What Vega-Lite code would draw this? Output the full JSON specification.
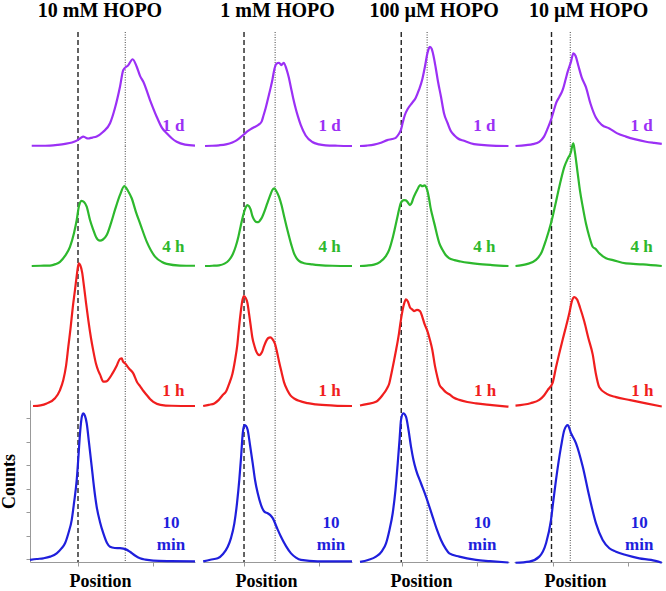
{
"$schema": "https://vega.github.io/schema/vega-lite/v6.json",
"padding": {"left": 0, "top": 1, "right": 0, "bottom": 0},
"background": "white",
"datasets": {
"A1": [{"x":0.383,"y":0.01},{"x":0.5,"y":0.01},{"x":0.627,"y":0.02},{"x":0.73,"y":0.05},{"x":0.827,"y":0.09},{"x":0.92,"y":0.15},{"x":0.983,"y":0.23},{"x":1.03,"y":0.33},{"x":1.071,"y":0.40},{"x":1.1,"y":0.36},{"x":1.133,"y":0.32},{"x":1.19,"y":0.36},{"x":1.249,"y":0.41},{"x":1.333,"y":0.60},{"x":1.427,"y":0.97},{"x":1.493,"y":1.62},{"x":1.56,"y":2.53},{"x":1.604,"y":3.24},{"x":1.671,"y":3.45},{"x":1.729,"y":3.70},{"x":1.783,"y":3.38},{"x":1.827,"y":2.99},{"x":1.871,"y":2.74},{"x":1.96,"y":1.96},{"x":2.049,"y":1.25},{"x":2.12,"y":0.77},{"x":2.183,"y":0.54},{"x":2.25,"y":0.33},{"x":2.316,"y":0.18},{"x":2.427,"y":0.06},{"x":2.56,"y":0.02}],
"A2": [{"x":0.383,"y":0},{"x":0.5,"y":0.01},{"x":0.627,"y":0.02},{"x":0.7,"y":0.08},{"x":0.76,"y":0.18},{"x":0.827,"y":0.43},{"x":0.893,"y":0.82},{"x":0.947,"y":1.41},{"x":0.983,"y":1.96},{"x":1.013,"y":2.56},{"x":1.049,"y":2.78},{"x":1.08,"y":2.73},{"x":1.116,"y":2.53},{"x":1.16,"y":1.96},{"x":1.204,"y":1.54},{"x":1.24,"y":1.24},{"x":1.293,"y":1.08},{"x":1.333,"y":1.13},{"x":1.383,"y":1.32},{"x":1.44,"y":1.83},{"x":1.493,"y":2.39},{"x":1.56,"y":3.03},{"x":1.617,"y":3.41},{"x":1.667,"y":3.20},{"x":1.716,"y":2.89},{"x":1.773,"y":2.30},{"x":1.827,"y":1.82},{"x":1.916,"y":1.04},{"x":2.027,"y":0.40},{"x":2.12,"y":0.17},{"x":2.183,"y":0.09},{"x":2.36,"y":0.02},{"x":2.56,"y":0.01}],
"A3": [{"x":0.40,"y":0},{"x":0.5,"y":0.03},{"x":0.583,"y":0.11},{"x":0.693,"y":0.33},{"x":0.76,"y":0.68},{"x":0.804,"y":1.11},{"x":0.84,"y":1.7},{"x":0.871,"y":2.53},{"x":0.9,"y":3.3},{"x":0.93,"y":4.2},{"x":0.96,"y":4.95},{"x":0.985,"y":5.6},{"x":1.0,"y":5.95},{"x":1.013,"y":6.08},{"x":1.03,"y":6.0},{"x":1.055,"y":5.7},{"x":1.08,"y":5.1},{"x":1.107,"y":4.4},{"x":1.137,"y":3.67},{"x":1.173,"y":2.9},{"x":1.204,"y":2.35},{"x":1.24,"y":1.8},{"x":1.271,"y":1.5},{"x":1.293,"y":1.35},{"x":1.337,"y":1.04},{"x":1.38,"y":1.05},{"x":1.404,"y":1.12},{"x":1.458,"y":1.38},{"x":1.516,"y":1.72},{"x":1.56,"y":2.01},{"x":1.583,"y":2.03},{"x":1.6,"y":1.9},{"x":1.627,"y":1.82},{"x":1.68,"y":1.6},{"x":1.737,"y":1.39},{"x":1.79,"y":1.0},{"x":1.827,"y":0.85},{"x":1.87,"y":0.65},{"x":1.916,"y":0.47},{"x":1.96,"y":0.3},{"x":2.004,"y":0.18},{"x":2.1,"y":0.05},{"x":2.249,"y":0.01},{"x":2.56,"y":0}],
"A4": [{"x":0.36,"y":-0.04},{"x":0.45,"y":0.0},{"x":0.537,"y":0.03},{"x":0.63,"y":0.1},{"x":0.716,"y":0.24},{"x":0.78,"y":0.45},{"x":0.827,"y":0.67},{"x":0.873,"y":1.11},{"x":0.916,"y":1.66},{"x":0.947,"y":2.39},{"x":0.983,"y":3.37},{"x":1.007,"y":4.43},{"x":1.027,"y":5.36},{"x":1.053,"y":6.10},{"x":1.071,"y":6.21},{"x":1.093,"y":6.10},{"x":1.116,"y":5.79},{"x":1.147,"y":4.95},{"x":1.183,"y":3.94},{"x":1.213,"y":3.07},{"x":1.249,"y":2.23},{"x":1.293,"y":1.58},{"x":1.337,"y":1.10},{"x":1.387,"y":0.68},{"x":1.427,"y":0.52},{"x":1.49,"y":0.47},{"x":1.56,"y":0.46},{"x":1.64,"y":0.41},{"x":1.693,"y":0.31},{"x":1.76,"y":0.15},{"x":1.827,"y":0.03},{"x":1.9,"y":-0.03},{"x":2.004,"y":-0.07},{"x":2.227,"y":-0.09},{"x":2.56,"y":-0.1}],
"B1": [{"x":0.48,"y":0.0},{"x":0.57,"y":0.01},{"x":0.667,"y":0.03},{"x":0.76,"y":0.07},{"x":0.844,"y":0.15},{"x":0.9,"y":0.24},{"x":0.956,"y":0.38},{"x":1.0,"y":0.5},{"x":1.044,"y":0.62},{"x":1.09,"y":0.72},{"x":1.133,"y":0.80},{"x":1.2,"y":0.92},{"x":1.236,"y":1.05},{"x":1.26,"y":1.3},{"x":1.289,"y":1.62},{"x":1.322,"y":2.05},{"x":1.356,"y":2.5},{"x":1.38,"y":2.85},{"x":1.40,"y":3.2},{"x":1.431,"y":3.5},{"x":1.467,"y":3.55},{"x":1.498,"y":3.45},{"x":1.529,"y":3.55},{"x":1.564,"y":3.3},{"x":1.595,"y":2.95},{"x":1.622,"y":2.55},{"x":1.655,"y":2.05},{"x":1.689,"y":1.6},{"x":1.72,"y":1.25},{"x":1.756,"y":0.9},{"x":1.822,"y":0.45},{"x":1.911,"y":0.17},{"x":2.0,"y":0.07},{"x":2.089,"y":0.03},{"x":2.25,"y":0.01},{"x":2.44,"y":0.0}],
"B2": [{"x":0.48,"y":0},{"x":0.58,"y":0.01},{"x":0.667,"y":0.03},{"x":0.74,"y":0.1},{"x":0.8,"y":0.25},{"x":0.85,"y":0.5},{"x":0.889,"y":0.83},{"x":0.925,"y":1.25},{"x":0.956,"y":1.71},{"x":0.98,"y":2.05},{"x":1.0,"y":2.29},{"x":1.02,"y":2.48},{"x":1.044,"y":2.6},{"x":1.066,"y":2.55},{"x":1.089,"y":2.4},{"x":1.11,"y":2.15},{"x":1.133,"y":1.98},{"x":1.16,"y":1.88},{"x":1.191,"y":1.87},{"x":1.215,"y":1.95},{"x":1.244,"y":2.1},{"x":1.275,"y":2.35},{"x":1.311,"y":2.68},{"x":1.345,"y":2.98},{"x":1.378,"y":3.24},{"x":1.404,"y":3.31},{"x":1.43,"y":3.2},{"x":1.467,"y":2.95},{"x":1.5,"y":2.6},{"x":1.533,"y":2.14},{"x":1.567,"y":1.68},{"x":1.6,"y":1.27},{"x":1.633,"y":0.88},{"x":1.667,"y":0.54},{"x":1.7,"y":0.34},{"x":1.733,"y":0.22},{"x":1.8,"y":0.12},{"x":1.911,"y":0.07},{"x":2.0,"y":0.04},{"x":2.178,"y":0.01},{"x":2.44,"y":0}],
"B3": [{"x":0.455,"y":0},{"x":0.53,"y":0.05},{"x":0.604,"y":0.11},{"x":0.66,"y":0.25},{"x":0.716,"y":0.47},{"x":0.76,"y":0.62},{"x":0.804,"y":0.97},{"x":0.844,"y":1.35},{"x":0.88,"y":1.95},{"x":0.911,"y":2.62},{"x":0.935,"y":3.4},{"x":0.956,"y":4.0},{"x":0.975,"y":4.45},{"x":0.996,"y":4.69},{"x":1.02,"y":4.62},{"x":1.045,"y":4.4},{"x":1.067,"y":3.94},{"x":1.09,"y":3.4},{"x":1.111,"y":2.92},{"x":1.14,"y":2.55},{"x":1.164,"y":2.32},{"x":1.204,"y":2.17},{"x":1.24,"y":2.3},{"x":1.267,"y":2.55},{"x":1.3,"y":2.8},{"x":1.324,"y":2.9},{"x":1.351,"y":2.93},{"x":1.38,"y":2.85},{"x":1.413,"y":2.65},{"x":1.44,"y":2.3},{"x":1.467,"y":1.90},{"x":1.5,"y":1.45},{"x":1.533,"y":1.02},{"x":1.58,"y":0.66},{"x":1.622,"y":0.44},{"x":1.68,"y":0.3},{"x":1.733,"y":0.22},{"x":1.85,"y":0.12},{"x":1.956,"y":0.07},{"x":2.2,"y":0.02},{"x":2.44,"y":0}],
"B4": [{"x":0.455,"y":-0.1},{"x":0.55,"y":-0.03},{"x":0.649,"y":0.03},{"x":0.72,"y":0.21},{"x":0.783,"y":0.52},{"x":0.827,"y":0.90},{"x":0.871,"y":1.52},{"x":0.907,"y":2.39},{"x":0.937,"y":3.37},{"x":0.96,"y":4.31},{"x":0.983,"y":5.36},{"x":1.004,"y":5.71},{"x":1.027,"y":5.67},{"x":1.049,"y":5.50},{"x":1.08,"y":4.86},{"x":1.116,"y":4.08},{"x":1.147,"y":3.37},{"x":1.183,"y":2.80},{"x":1.227,"y":2.30},{"x":1.271,"y":2.02},{"x":1.316,"y":1.95},{"x":1.347,"y":1.88},{"x":1.383,"y":1.74},{"x":1.44,"y":1.32},{"x":1.493,"y":0.95},{"x":1.56,"y":0.55},{"x":1.627,"y":0.24},{"x":1.693,"y":0.06},{"x":1.76,"y":-0.04},{"x":1.983,"y":-0.1},{"x":2.44,"y":-0.1}],
"C1": [{"x":0.44,"y":0},{"x":0.53,"y":0.02},{"x":0.627,"y":0.06},{"x":0.72,"y":0.14},{"x":0.804,"y":0.25},{"x":0.87,"y":0.3},{"x":0.916,"y":0.35},{"x":0.955,"y":0.5},{"x":0.987,"y":0.70},{"x":1.01,"y":1.0},{"x":1.036,"y":1.3},{"x":1.08,"y":1.60},{"x":1.138,"y":1.85},{"x":1.182,"y":2.05},{"x":1.227,"y":2.4},{"x":1.271,"y":2.85},{"x":1.307,"y":3.4},{"x":1.338,"y":3.94},{"x":1.36,"y":4.18},{"x":1.373,"y":4.23},{"x":1.395,"y":4.15},{"x":1.42,"y":3.85},{"x":1.449,"y":3.35},{"x":1.48,"y":2.75},{"x":1.52,"y":2.1},{"x":1.56,"y":1.4},{"x":1.609,"y":0.97},{"x":1.649,"y":0.65},{"x":1.7,"y":0.45},{"x":1.742,"y":0.33},{"x":1.827,"y":0.22},{"x":1.96,"y":0.08},{"x":2.138,"y":0.03},{"x":2.42,"y":0}],
"C2": [{"x":0.44,"y":0},{"x":0.53,"y":0.02},{"x":0.627,"y":0.06},{"x":0.71,"y":0.18},{"x":0.782,"y":0.41},{"x":0.83,"y":0.7},{"x":0.871,"y":1.14},{"x":0.905,"y":1.6},{"x":0.938,"y":2.08},{"x":0.96,"y":2.4},{"x":0.982,"y":2.67},{"x":1.005,"y":2.78},{"x":1.027,"y":2.81},{"x":1.053,"y":2.80},{"x":1.071,"y":2.74},{"x":1.107,"y":2.6},{"x":1.13,"y":2.7},{"x":1.151,"y":2.89},{"x":1.18,"y":3.1},{"x":1.204,"y":3.25},{"x":1.244,"y":3.45},{"x":1.271,"y":3.40},{"x":1.302,"y":3.44},{"x":1.32,"y":3.38},{"x":1.34,"y":3.2},{"x":1.36,"y":2.89},{"x":1.38,"y":2.5},{"x":1.404,"y":2.16},{"x":1.44,"y":1.7},{"x":1.471,"y":1.28},{"x":1.5,"y":0.95},{"x":1.538,"y":0.70},{"x":1.58,"y":0.48},{"x":1.627,"y":0.34},{"x":1.7,"y":0.25},{"x":1.782,"y":0.19},{"x":1.9,"y":0.13},{"x":2.004,"y":0.09},{"x":2.2,"y":0.04},{"x":2.42,"y":0}],
"C3": [{"x":0.44,"y":0.02},{"x":0.53,"y":0.08},{"x":0.653,"y":0.18},{"x":0.742,"y":0.47},{"x":0.8,"y":0.75},{"x":0.831,"y":0.97},{"x":0.86,"y":1.4},{"x":0.916,"y":2.3},{"x":0.96,"y":3.1},{"x":0.982,"y":3.6},{"x":1.027,"y":4.35},{"x":1.053,"y":4.55},{"x":1.08,"y":4.45},{"x":1.107,"y":4.2},{"x":1.135,"y":4.12},{"x":1.16,"y":4.05},{"x":1.2,"y":4.1},{"x":1.24,"y":4.05},{"x":1.271,"y":3.8},{"x":1.3,"y":3.5},{"x":1.338,"y":3.2},{"x":1.37,"y":2.85},{"x":1.404,"y":2.4},{"x":1.44,"y":1.7},{"x":1.471,"y":1.25},{"x":1.5,"y":0.9},{"x":1.538,"y":0.75},{"x":1.58,"y":0.6},{"x":1.631,"y":0.5},{"x":1.693,"y":0.35},{"x":1.764,"y":0.26},{"x":1.871,"y":0.17},{"x":1.987,"y":0.11},{"x":2.2,"y":0.04},{"x":2.42,"y":-0.03}],
"C4": [{"x":0.44,"y":-0.12},{"x":0.547,"y":-0.04},{"x":0.653,"y":0.10},{"x":0.733,"y":0.34},{"x":0.787,"y":0.67},{"x":0.833,"y":1.24},{"x":0.876,"y":1.95},{"x":0.913,"y":2.94},{"x":0.943,"y":4.08},{"x":0.967,"y":5.07},{"x":0.987,"y":5.93},{"x":1.017,"y":6.21},{"x":1.053,"y":6.07},{"x":1.087,"y":5.50},{"x":1.12,"y":4.79},{"x":1.153,"y":4.22},{"x":1.187,"y":3.80},{"x":1.253,"y":3.23},{"x":1.32,"y":2.66},{"x":1.409,"y":1.80},{"x":1.467,"y":1.24},{"x":1.52,"y":0.81},{"x":1.58,"y":0.45},{"x":1.631,"y":0.24},{"x":1.764,"y":0.10},{"x":1.987,"y":-0.04},{"x":2.173,"y":-0.09},{"x":2.42,"y":-0.15}],
"D1": [{"x":0.5,"y":0.0},{"x":0.64,"y":0.04},{"x":0.73,"y":0.08},{"x":0.817,"y":0.18},{"x":0.88,"y":0.4},{"x":0.929,"y":0.75},{"x":0.973,"y":1.11},{"x":1.005,"y":1.45},{"x":1.04,"y":1.82},{"x":1.085,"y":2.1},{"x":1.129,"y":2.39},{"x":1.165,"y":2.8},{"x":1.196,"y":3.17},{"x":1.24,"y":3.6},{"x":1.271,"y":3.95},{"x":1.3,"y":3.85},{"x":1.34,"y":3.4},{"x":1.38,"y":2.95},{"x":1.44,"y":2.5},{"x":1.5,"y":1.8},{"x":1.573,"y":1.2},{"x":1.65,"y":0.9},{"x":1.751,"y":0.75},{"x":1.85,"y":0.55},{"x":1.973,"y":0.40},{"x":2.1,"y":0.28},{"x":2.24,"y":0.18},{"x":2.35,"y":0.13},{"x":2.45,"y":0.09}],
"D2": [{"x":0.5,"y":0},{"x":0.65,"y":0.08},{"x":0.773,"y":0.26},{"x":0.85,"y":0.6},{"x":0.907,"y":1.11},{"x":0.973,"y":1.82},{"x":1.03,"y":2.6},{"x":1.084,"y":3.38},{"x":1.151,"y":4.23},{"x":1.2,"y":4.6},{"x":1.24,"y":4.87},{"x":1.255,"y":5.1},{"x":1.271,"y":5.23},{"x":1.29,"y":4.9},{"x":1.329,"y":3.95},{"x":1.36,"y":3.2},{"x":1.396,"y":2.53},{"x":1.44,"y":1.8},{"x":1.484,"y":1.25},{"x":1.529,"y":0.82},{"x":1.57,"y":0.72},{"x":1.617,"y":0.54},{"x":1.707,"y":0.33},{"x":1.8,"y":0.25},{"x":1.973,"y":0.11},{"x":2.2,"y":0.07},{"x":2.45,"y":0.0}],
"D3": [{"x":0.5,"y":0.02},{"x":0.7,"y":0.12},{"x":0.817,"y":0.26},{"x":0.88,"y":0.45},{"x":0.929,"y":0.68},{"x":0.996,"y":1.0},{"x":1.04,"y":1.65},{"x":1.084,"y":2.25},{"x":1.13,"y":2.85},{"x":1.173,"y":3.38},{"x":1.22,"y":4.0},{"x":1.25,"y":4.45},{"x":1.284,"y":4.64},{"x":1.32,"y":4.55},{"x":1.36,"y":4.2},{"x":1.417,"y":3.6},{"x":1.471,"y":2.9},{"x":1.529,"y":2.2},{"x":1.57,"y":1.4},{"x":1.617,"y":0.8},{"x":1.716,"y":0.52},{"x":1.84,"y":0.38},{"x":2.03,"y":0.25},{"x":2.24,"y":0.11},{"x":2.45,"y":-0.02}],
"D4": [{"x":0.5,"y":-0.16},{"x":0.684,"y":-0.11},{"x":0.817,"y":0.10},{"x":0.907,"y":0.67},{"x":0.973,"y":1.66},{"x":1.005,"y":2.5},{"x":1.04,"y":3.37},{"x":1.107,"y":4.79},{"x":1.151,"y":5.50},{"x":1.196,"y":5.71},{"x":1.24,"y":5.36},{"x":1.307,"y":4.93},{"x":1.396,"y":3.94},{"x":1.484,"y":2.66},{"x":1.573,"y":1.52},{"x":1.662,"y":0.81},{"x":1.751,"y":0.46},{"x":1.84,"y":0.31},{"x":1.973,"y":0.17},{"x":2.151,"y":0.03},{"x":2.307,"y":-0.04},{"x":2.45,"y":-0.16}]
},
"hconcat": [
{"title": "10 mM HOPO", "spacing": 0, "bounds": "flush", "vconcat": [
 {"width": 165, "height": 114, "layer": [
  {"data": {"values": [{}]}, "mark": {"type": "rule", "color": "#222", "strokeDash": [5, 3], "strokeWidth": 1.4}, "encoding": {"x": {"datum": 1, "type": "quantitative", "axis": null, "scale": {"domain": [0.36, 2.56], "nice": false, "zero": false}}}},
  {"data": {"values": [{}]}, "mark": {"type": "rule", "color": "#444", "strokeDash": [1, 1.5], "strokeWidth": 1}, "encoding": {"x": {"datum": 1.63, "type": "quantitative", "axis": null}}},
  {"data": {"name": "A1"}, "mark": {"type": "line", "color": "#9b30f5"}, "encoding": {"x": {"field": "x", "type": "quantitative", "axis": null}, "y": {"field": "y", "type": "quantitative", "axis": null, "scale": {"domain": [0, 4.861], "nice": false, "zero": false}}}},
  {"data": {"values": [{}]}, "mark": {"type": "text", "color": "#9b30f5"}, "encoding": {"x": {"datum": 2.27, "type": "quantitative", "axis": null}, "y": {"datum": 0.87, "type": "quantitative", "axis": null}, "text": {"value": "1 d"}}}
 ]},
 {"width": 165, "height": 120, "layer": [
  {"data": {"values": [{}]}, "mark": {"type": "rule", "color": "#222", "strokeDash": [5, 3], "strokeWidth": 1.4}, "encoding": {"x": {"datum": 1, "type": "quantitative", "axis": null, "scale": {"domain": [0.36, 2.56], "nice": false, "zero": false}}}},
  {"data": {"values": [{}]}, "mark": {"type": "rule", "color": "#444", "strokeDash": [1, 1.5], "strokeWidth": 1}, "encoding": {"x": {"datum": 1.63, "type": "quantitative", "axis": null}}},
  {"data": {"name": "A2"}, "mark": {"type": "line", "color": "#2db82d"}, "encoding": {"x": {"field": "x", "type": "quantitative", "axis": null}, "y": {"field": "y", "type": "quantitative", "axis": null, "scale": {"domain": [0, 5.117], "nice": false, "zero": false}}}},
  {"data": {"values": [{}]}, "mark": {"type": "text", "color": "#2db82d"}, "encoding": {"x": {"datum": 2.27, "type": "quantitative", "axis": null}, "y": {"datum": 0.79, "type": "quantitative", "axis": null}, "text": {"value": "4 h"}}}
 ]},
 {"width": 165, "height": 134, "layer": [
  {"data": {"values": [{}]}, "mark": {"type": "rule", "color": "#222", "strokeDash": [5, 3], "strokeWidth": 1.4}, "encoding": {"x": {"datum": 1, "type": "quantitative", "axis": null, "scale": {"domain": [0.36, 2.56], "nice": false, "zero": false}}}},
  {"data": {"values": [{}]}, "mark": {"type": "rule", "color": "#444", "strokeDash": [1, 1.5], "strokeWidth": 1}, "encoding": {"x": {"datum": 1.63, "type": "quantitative", "axis": null}}},
  {"data": {"name": "A3"}, "mark": {"type": "line", "color": "#f01e1e"}, "encoding": {"x": {"field": "x", "type": "quantitative", "axis": null}, "y": {"field": "y", "type": "quantitative", "axis": null, "scale": {"domain": [0.256, 5.97], "nice": false, "zero": false}}}},
  {"data": {"values": [{}]}, "mark": {"type": "text", "color": "#f01e1e"}, "encoding": {"x": {"datum": 2.27, "type": "quantitative", "axis": null}, "y": {"datum": 0.64, "type": "quantitative", "axis": null}, "text": {"value": "1 h"}}}
 ]},
 {"width": 165, "height": 162, "layer": [
  {"data": {"values": [{}]}, "mark": {"type": "rule", "color": "#222", "strokeDash": [5, 3], "strokeWidth": 1.4}, "encoding": {"x": {"datum": 1, "type": "quantitative", "scale": {"domain": [0.36, 2.56], "nice": false, "zero": false}}}},
  {"data": {"values": [{}]}, "mark": {"type": "rule", "color": "#444", "strokeDash": [1, 1.5], "strokeWidth": 1}, "encoding": {"x": {"datum": 1.63, "type": "quantitative"}}},
  {"data": {"name": "A4"}, "mark": {"type": "line", "color": "#1f1fdc"}, "encoding": {"x": {"field": "x", "type": "quantitative", "axis": {"title": "Position", "values": [1, 2], "titleX": 70, "titleY": 10}}, "y": {"field": "y", "type": "quantitative", "axis": {"title": "Counts", "values": [0, 1, 2, 3, 4, 5, 6], "tickCount": 20, "titlePadding": 7}, "scale": {"domain": [-0.128, 6.78], "nice": false, "zero": false}}}},
  {"data": {"values": [{}]}, "mark": {"type": "text", "color": "#1f1fdc", "lineBreak": "\n", "lineHeight": 22}, "encoding": {"x": {"datum": 2.24, "type": "quantitative"}, "y": {"datum": 1.52, "type": "quantitative"}, "text": {"value": "10\nmin"}}}
 ]}
]},
{"title": "1 mM HOPO", "spacing": 0, "bounds": "flush", "vconcat": [
 {"width": 149, "height": 114, "layer": [
  {"data": {"values": [{}]}, "mark": {"type": "rule", "color": "#222", "strokeDash": [5, 3], "strokeWidth": 1.4}, "encoding": {"x": {"datum": 1, "type": "quantitative", "axis": null, "scale": {"domain": [0.453, 2.44], "nice": false, "zero": false}}}},
  {"data": {"values": [{}]}, "mark": {"type": "rule", "color": "#444", "strokeDash": [1, 1.5], "strokeWidth": 1}, "encoding": {"x": {"datum": 1.415, "type": "quantitative", "axis": null}}},
  {"data": {"name": "B1"}, "mark": {"type": "line", "color": "#9b30f5"}, "encoding": {"x": {"field": "x", "type": "quantitative", "axis": null}, "y": {"field": "y", "type": "quantitative", "axis": null, "scale": {"domain": [0, 4.861], "nice": false, "zero": false}}}},
  {"data": {"values": [{}]}, "mark": {"type": "text", "color": "#9b30f5"}, "encoding": {"x": {"datum": 2.14, "type": "quantitative", "axis": null}, "y": {"datum": 0.87, "type": "quantitative", "axis": null}, "text": {"value": "1 d"}}}
 ]},
 {"width": 149, "height": 120, "layer": [
  {"data": {"values": [{}]}, "mark": {"type": "rule", "color": "#222", "strokeDash": [5, 3], "strokeWidth": 1.4}, "encoding": {"x": {"datum": 1, "type": "quantitative", "axis": null, "scale": {"domain": [0.453, 2.44], "nice": false, "zero": false}}}},
  {"data": {"values": [{}]}, "mark": {"type": "rule", "color": "#444", "strokeDash": [1, 1.5], "strokeWidth": 1}, "encoding": {"x": {"datum": 1.415, "type": "quantitative", "axis": null}}},
  {"data": {"name": "B2"}, "mark": {"type": "line", "color": "#2db82d"}, "encoding": {"x": {"field": "x", "type": "quantitative", "axis": null}, "y": {"field": "y", "type": "quantitative", "axis": null, "scale": {"domain": [0, 5.117], "nice": false, "zero": false}}}},
  {"data": {"values": [{}]}, "mark": {"type": "text", "color": "#2db82d"}, "encoding": {"x": {"datum": 2.14, "type": "quantitative", "axis": null}, "y": {"datum": 0.79, "type": "quantitative", "axis": null}, "text": {"value": "4 h"}}}
 ]},
 {"width": 149, "height": 134, "layer": [
  {"data": {"values": [{}]}, "mark": {"type": "rule", "color": "#222", "strokeDash": [5, 3], "strokeWidth": 1.4}, "encoding": {"x": {"datum": 1, "type": "quantitative", "axis": null, "scale": {"domain": [0.453, 2.44], "nice": false, "zero": false}}}},
  {"data": {"values": [{}]}, "mark": {"type": "rule", "color": "#444", "strokeDash": [1, 1.5], "strokeWidth": 1}, "encoding": {"x": {"datum": 1.415, "type": "quantitative", "axis": null}}},
  {"data": {"name": "B3"}, "mark": {"type": "line", "color": "#f01e1e"}, "encoding": {"x": {"field": "x", "type": "quantitative", "axis": null}, "y": {"field": "y", "type": "quantitative", "axis": null, "scale": {"domain": [0.256, 5.97], "nice": false, "zero": false}}}},
  {"data": {"values": [{}]}, "mark": {"type": "text", "color": "#f01e1e"}, "encoding": {"x": {"datum": 2.14, "type": "quantitative", "axis": null}, "y": {"datum": 0.64, "type": "quantitative", "axis": null}, "text": {"value": "1 h"}}}
 ]},
 {"width": 149, "height": 162, "layer": [
  {"data": {"values": [{}]}, "mark": {"type": "rule", "color": "#222", "strokeDash": [5, 3], "strokeWidth": 1.4}, "encoding": {"x": {"datum": 1, "type": "quantitative", "scale": {"domain": [0.453, 2.44], "nice": false, "zero": false}}}},
  {"data": {"values": [{}]}, "mark": {"type": "rule", "color": "#444", "strokeDash": [1, 1.5], "strokeWidth": 1}, "encoding": {"x": {"datum": 1.415, "type": "quantitative"}}},
  {"data": {"name": "B4"}, "mark": {"type": "line", "color": "#1f1fdc"}, "encoding": {"x": {"field": "x", "type": "quantitative", "axis": {"title": "Position", "values": [1, 2], "titleX": 63, "titleY": 10}}, "y": {"field": "y", "type": "quantitative", "axis": null, "scale": {"domain": [-0.128, 6.78], "nice": false, "zero": false}}}},
  {"data": {"values": [{}]}, "mark": {"type": "text", "color": "#1f1fdc", "lineBreak": "\n", "lineHeight": 22}, "encoding": {"x": {"datum": 2.16, "type": "quantitative"}, "y": {"datum": 1.52, "type": "quantitative", "axis": null}, "text": {"value": "10\nmin"}}}
 ]}
]},
{"title": "100 µM HOPO", "spacing": 0, "bounds": "flush", "vconcat": [
 {"width": 149, "height": 114, "layer": [
  {"data": {"values": [{}]}, "mark": {"type": "rule", "color": "#222", "strokeDash": [5, 3], "strokeWidth": 1.4}, "encoding": {"x": {"datum": 0.99, "type": "quantitative", "axis": null, "scale": {"domain": [0.44, 2.427], "nice": false, "zero": false}}}},
  {"data": {"values": [{}]}, "mark": {"type": "rule", "color": "#444", "strokeDash": [1, 1.5], "strokeWidth": 1}, "encoding": {"x": {"datum": 1.335, "type": "quantitative", "axis": null}}},
  {"data": {"name": "C1"}, "mark": {"type": "line", "color": "#9b30f5"}, "encoding": {"x": {"field": "x", "type": "quantitative", "axis": null}, "y": {"field": "y", "type": "quantitative", "axis": null, "scale": {"domain": [0, 4.861], "nice": false, "zero": false}}}},
  {"data": {"values": [{}]}, "mark": {"type": "text", "color": "#9b30f5"}, "encoding": {"x": {"datum": 2.10, "type": "quantitative", "axis": null}, "y": {"datum": 0.87, "type": "quantitative", "axis": null}, "text": {"value": "1 d"}}}
 ]},
 {"width": 149, "height": 120, "layer": [
  {"data": {"values": [{}]}, "mark": {"type": "rule", "color": "#222", "strokeDash": [5, 3], "strokeWidth": 1.4}, "encoding": {"x": {"datum": 0.99, "type": "quantitative", "axis": null, "scale": {"domain": [0.44, 2.427], "nice": false, "zero": false}}}},
  {"data": {"values": [{}]}, "mark": {"type": "rule", "color": "#444", "strokeDash": [1, 1.5], "strokeWidth": 1}, "encoding": {"x": {"datum": 1.335, "type": "quantitative", "axis": null}}},
  {"data": {"name": "C2"}, "mark": {"type": "line", "color": "#2db82d"}, "encoding": {"x": {"field": "x", "type": "quantitative", "axis": null}, "y": {"field": "y", "type": "quantitative", "axis": null, "scale": {"domain": [0, 5.117], "nice": false, "zero": false}}}},
  {"data": {"values": [{}]}, "mark": {"type": "text", "color": "#2db82d"}, "encoding": {"x": {"datum": 2.10, "type": "quantitative", "axis": null}, "y": {"datum": 0.79, "type": "quantitative", "axis": null}, "text": {"value": "4 h"}}}
 ]},
 {"width": 149, "height": 134, "layer": [
  {"data": {"values": [{}]}, "mark": {"type": "rule", "color": "#222", "strokeDash": [5, 3], "strokeWidth": 1.4}, "encoding": {"x": {"datum": 0.99, "type": "quantitative", "axis": null, "scale": {"domain": [0.44, 2.427], "nice": false, "zero": false}}}},
  {"data": {"values": [{}]}, "mark": {"type": "rule", "color": "#444", "strokeDash": [1, 1.5], "strokeWidth": 1}, "encoding": {"x": {"datum": 1.335, "type": "quantitative", "axis": null}}},
  {"data": {"name": "C3"}, "mark": {"type": "line", "color": "#f01e1e"}, "encoding": {"x": {"field": "x", "type": "quantitative", "axis": null}, "y": {"field": "y", "type": "quantitative", "axis": null, "scale": {"domain": [0.256, 5.97], "nice": false, "zero": false}}}},
  {"data": {"values": [{}]}, "mark": {"type": "text", "color": "#f01e1e"}, "encoding": {"x": {"datum": 2.11, "type": "quantitative", "axis": null}, "y": {"datum": 0.64, "type": "quantitative", "axis": null}, "text": {"value": "1 h"}}}
 ]},
 {"width": 149, "height": 162, "layer": [
  {"data": {"values": [{}]}, "mark": {"type": "rule", "color": "#222", "strokeDash": [5, 3], "strokeWidth": 1.4}, "encoding": {"x": {"datum": 0.99, "type": "quantitative", "scale": {"domain": [0.44, 2.427], "nice": false, "zero": false}}}},
  {"data": {"values": [{}]}, "mark": {"type": "rule", "color": "#444", "strokeDash": [1, 1.5], "strokeWidth": 1}, "encoding": {"x": {"datum": 1.335, "type": "quantitative"}}},
  {"data": {"name": "C4"}, "mark": {"type": "line", "color": "#1f1fdc"}, "encoding": {"x": {"field": "x", "type": "quantitative", "axis": {"title": "Position", "values": [1, 2], "titleX": 61, "titleY": 10}}, "y": {"field": "y", "type": "quantitative", "axis": null, "scale": {"domain": [-0.128, 6.78], "nice": false, "zero": false}}}},
  {"data": {"values": [{}]}, "mark": {"type": "text", "color": "#1f1fdc", "lineBreak": "\n", "lineHeight": 22}, "encoding": {"x": {"datum": 2.07, "type": "quantitative"}, "y": {"datum": 1.52, "type": "quantitative", "axis": null}, "text": {"value": "10\nmin"}}}
 ]}
]},
{"title": "10 µM HOPO", "spacing": 0, "bounds": "flush", "vconcat": [
 {"width": 148, "height": 114, "layer": [
  {"data": {"values": [{}]}, "mark": {"type": "rule", "color": "#222", "strokeDash": [5, 3], "strokeWidth": 1.4}, "encoding": {"x": {"datum": 0.98, "type": "quantitative", "axis": null, "scale": {"domain": [0.48, 2.453], "nice": false, "zero": false}}}},
  {"data": {"values": [{}]}, "mark": {"type": "rule", "color": "#444", "strokeDash": [1, 1.5], "strokeWidth": 1}, "encoding": {"x": {"datum": 1.23, "type": "quantitative", "axis": null}}},
  {"data": {"name": "D1"}, "mark": {"type": "line", "color": "#9b30f5"}, "encoding": {"x": {"field": "x", "type": "quantitative", "axis": null}, "y": {"field": "y", "type": "quantitative", "axis": null, "scale": {"domain": [0, 4.861], "nice": false, "zero": false}}}},
  {"data": {"values": [{}]}, "mark": {"type": "text", "color": "#9b30f5"}, "encoding": {"x": {"datum": 2.18, "type": "quantitative", "axis": null}, "y": {"datum": 0.87, "type": "quantitative", "axis": null}, "text": {"value": "1 d"}}}
 ]},
 {"width": 148, "height": 120, "layer": [
  {"data": {"values": [{}]}, "mark": {"type": "rule", "color": "#222", "strokeDash": [5, 3], "strokeWidth": 1.4}, "encoding": {"x": {"datum": 0.98, "type": "quantitative", "axis": null, "scale": {"domain": [0.48, 2.453], "nice": false, "zero": false}}}},
  {"data": {"values": [{}]}, "mark": {"type": "rule", "color": "#444", "strokeDash": [1, 1.5], "strokeWidth": 1}, "encoding": {"x": {"datum": 1.23, "type": "quantitative", "axis": null}}},
  {"data": {"name": "D2"}, "mark": {"type": "line", "color": "#2db82d"}, "encoding": {"x": {"field": "x", "type": "quantitative", "axis": null}, "y": {"field": "y", "type": "quantitative", "axis": null, "scale": {"domain": [0, 5.117], "nice": false, "zero": false}}}},
  {"data": {"values": [{}]}, "mark": {"type": "text", "color": "#2db82d"}, "encoding": {"x": {"datum": 2.18, "type": "quantitative", "axis": null}, "y": {"datum": 0.79, "type": "quantitative", "axis": null}, "text": {"value": "4 h"}}}
 ]},
 {"width": 148, "height": 134, "layer": [
  {"data": {"values": [{}]}, "mark": {"type": "rule", "color": "#222", "strokeDash": [5, 3], "strokeWidth": 1.4}, "encoding": {"x": {"datum": 0.98, "type": "quantitative", "axis": null, "scale": {"domain": [0.48, 2.453], "nice": false, "zero": false}}}},
  {"data": {"values": [{}]}, "mark": {"type": "rule", "color": "#444", "strokeDash": [1, 1.5], "strokeWidth": 1}, "encoding": {"x": {"datum": 1.23, "type": "quantitative", "axis": null}}},
  {"data": {"name": "D3"}, "mark": {"type": "line", "color": "#f01e1e"}, "encoding": {"x": {"field": "x", "type": "quantitative", "axis": null}, "y": {"field": "y", "type": "quantitative", "axis": null, "scale": {"domain": [0.256, 5.97], "nice": false, "zero": false}}}},
  {"data": {"values": [{}]}, "mark": {"type": "text", "color": "#f01e1e"}, "encoding": {"x": {"datum": 2.19, "type": "quantitative", "axis": null}, "y": {"datum": 0.64, "type": "quantitative", "axis": null}, "text": {"value": "1 h"}}}
 ]},
 {"width": 148, "height": 162, "layer": [
  {"data": {"values": [{}]}, "mark": {"type": "rule", "color": "#222", "strokeDash": [5, 3], "strokeWidth": 1.4}, "encoding": {"x": {"datum": 0.98, "type": "quantitative", "scale": {"domain": [0.48, 2.453], "nice": false, "zero": false}}}},
  {"data": {"values": [{}]}, "mark": {"type": "rule", "color": "#444", "strokeDash": [1, 1.5], "strokeWidth": 1}, "encoding": {"x": {"datum": 1.23, "type": "quantitative"}}},
  {"data": {"name": "D4"}, "mark": {"type": "line", "color": "#1f1fdc"}, "encoding": {"x": {"field": "x", "type": "quantitative", "axis": {"title": "Position", "values": [1, 2], "titleX": 61, "titleY": 10}}, "y": {"field": "y", "type": "quantitative", "axis": null, "scale": {"domain": [-0.128, 6.78], "nice": false, "zero": false}}}},
  {"data": {"values": [{}]}, "mark": {"type": "text", "color": "#1f1fdc", "lineBreak": "\n", "lineHeight": 22}, "encoding": {"x": {"datum": 2.15, "type": "quantitative"}, "y": {"datum": 1.52, "type": "quantitative", "axis": null}, "text": {"value": "10\nmin"}}}
 ]}
]}
],
"spacing": -2,
"config": {
 "view": {"stroke": null},
 "font": "Liberation Serif",
 "title": {"font": "Liberation Serif", "fontSize": 20, "fontWeight": "bold", "color": "#000", "anchor": "middle", "offset": 10},
 "line": {"strokeWidth": 2.2, "interpolate": "monotone"},
 "text": {"font": "Liberation Serif", "fontWeight": "bold", "fontSize": 17, "align": "center", "baseline": "middle"},
 "axis": {"labels": false, "grid": false, "ticks": true, "tickSize": 4, "tickColor": "#999", "domainColor": "#999", "domainWidth": 1, "titleFont": "Liberation Serif", "titleFontSize": 18, "titleFontWeight": "bold", "titleColor": "#000"},
 "axisX": {"titleBaseline": "top"}
}
}
